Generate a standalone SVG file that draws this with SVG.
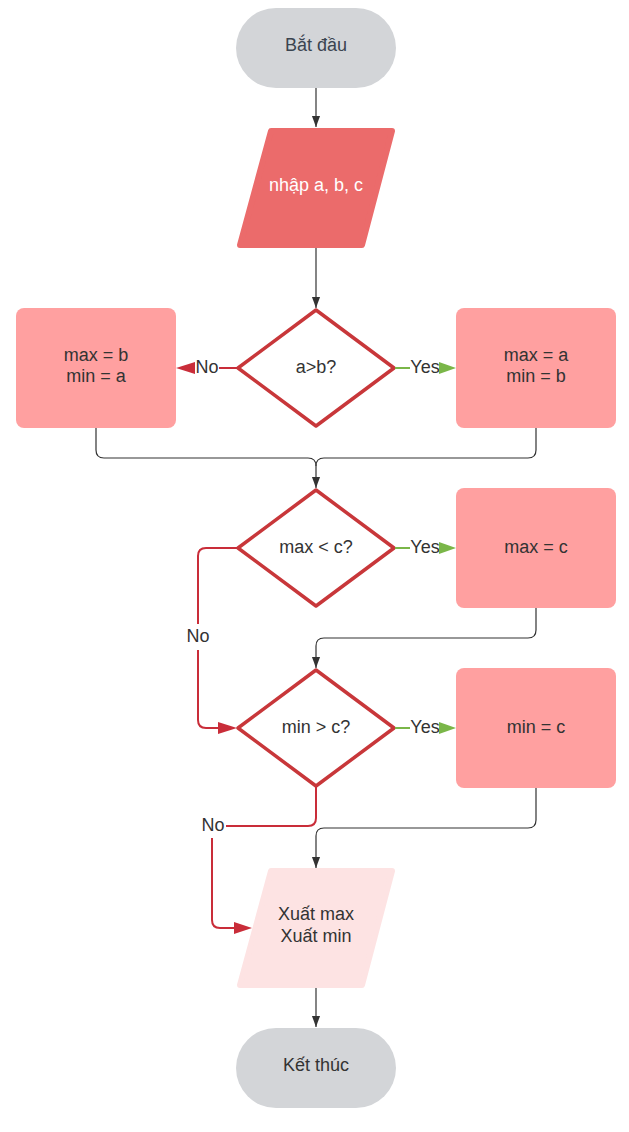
<svg xmlns="http://www.w3.org/2000/svg" width="629" height="1132" viewBox="0 0 629 1132">
  <style>
    text { font-family: "Liberation Sans", Arial, sans-serif; font-size: 18px; fill: #333333; text-anchor: middle; }
    .term { fill: #d3d5d8; }
    .term-text { fill: #3a4450; }
    .proc { fill: #ffa0a0; }
    .io-dark { fill: #eb6b6b; stroke: #eb6b6b; stroke-width: 6; stroke-linejoin: round; }
    .io-light { fill: #fde3e3; stroke: #fde3e3; stroke-width: 6; stroke-linejoin: round; }
    .dec { fill: #ffffff; stroke: #c8373a; stroke-width: 3.5; stroke-linejoin: round; }
    .flow { fill: none; stroke: #333333; stroke-width: 1.2; }
    .no { fill: none; stroke: #c92d39; stroke-width: 2; }
    .yes { fill: none; stroke: #7ab648; stroke-width: 2; }
  </style>
  <defs>
    <marker id="arrow-dark" markerWidth="11" markerHeight="15" refX="15" refY="5.5" viewBox="0 0 15 11" orient="auto" markerUnits="userSpaceOnUse">
      <path d="M0,0 L15,5.5 L0,11 Z" fill="#333333"/>
    </marker>
  </defs>

  <!-- Start -->
  <g id="start">
    <rect class="term" x="236" y="8" width="160" height="80" rx="40"/>
    <text class="term-text" x="316" y="51">Bắt đầu</text>
  </g>

  <!-- Input -->
  <g id="input">
    <polygon class="io-dark" points="271,131 392,131 362,245 240,245"/>
    <text x="316" y="191" style="fill:#ffffff">nhập a, b, c</text>
  </g>

  <!-- Decision a>b -->
  <g id="dec-ab">
    <polygon class="dec" points="316,310 394,368 316,426 238,368"/>
    <text x="316" y="373">a&gt;b?</text>
  </g>

  <g id="box-left">
    <rect class="proc" x="16" y="308" width="160" height="120" rx="8"/>
    <text x="96" y="361">max = b</text>
    <text x="96" y="382">min = a</text>
  </g>

  <g id="box-right">
    <rect class="proc" x="456" y="308" width="160" height="120" rx="8"/>
    <text x="536" y="361">max = a</text>
    <text x="536" y="382">min = b</text>
  </g>

  <!-- Decision max < c -->
  <g id="dec-max">
    <polygon class="dec" points="316,490 394,548 316,606 238,548"/>
    <text x="316" y="553">max &lt; c?</text>
  </g>

  <g id="box-max">
    <rect class="proc" x="456" y="488" width="160" height="120" rx="8"/>
    <text x="536" y="553">max = c</text>
  </g>

  <!-- Decision min > c -->
  <g id="dec-min">
    <polygon class="dec" points="316,670 394,728 316,786 238,728"/>
    <text x="316" y="733">min &gt; c?</text>
  </g>

  <g id="box-min">
    <rect class="proc" x="456" y="668" width="160" height="120" rx="8"/>
    <text x="536" y="733">min = c</text>
  </g>

  <!-- Output -->
  <g id="output">
    <polygon class="io-light" points="271,871 392,871 362,985 240,985"/>
    <text x="316" y="920">Xuất max</text>
    <text x="316" y="942">Xuất min</text>
  </g>

  <!-- End -->
  <g id="end">
    <rect class="term" x="236" y="1028" width="160" height="80" rx="40"/>
    <text x="316" y="1071">Kết thúc</text>
  </g>

  <!-- Connectors -->
  <g id="connectors">
    <!-- plain flow -->
    <path class="flow" d="M316,88 V127" marker-end="url(#arrow-dark)"/>
    <path class="flow" d="M316,248 V308" marker-end="url(#arrow-dark)"/>
    <path class="flow" d="M96,428 V450 Q96,458 104,458 H308 Q316,458 316,466 V488" marker-end="url(#arrow-dark)"/>
    <path class="flow" d="M536,428 V450 Q536,458 528,458 H324 Q316,458 316,466"/>
    <path class="flow" d="M536,608 V630 Q536,638 528,638 H324 Q316,638 316,646 V668" marker-end="url(#arrow-dark)"/>
    <path class="flow" d="M536,788 V820 Q536,828 528,828 H324 Q316,828 316,836 V868" marker-end="url(#arrow-dark)"/>
    <path class="flow" d="M316,988 V1027" marker-end="url(#arrow-dark)"/>

    <!-- a>b : No -->
    <path class="no" d="M237,368 H219"/>
    <text x="207" y="373">No</text>
    <path d="M176,368 L195,362 L195,374 Z" fill="#c92d39"/>
    <!-- a>b : Yes -->
    <path class="yes" d="M395,368 H410"/>
    <text x="425" y="373">Yes</text>
    <path d="M456,368 L439,362 L439,374 Z" fill="#7ab648"/>

    <!-- max<c : Yes -->
    <path class="yes" d="M395,548 H410"/>
    <text x="425" y="553">Yes</text>
    <path d="M456,548 L439,542 L439,554 Z" fill="#7ab648"/>
    <!-- max<c : No -->
    <path class="no" d="M237,548 H206 Q198,548 198,556 V624"/>
    <text x="198" y="642">No</text>
    <path class="no" d="M198,650 V720 Q198,728 206,728 H220"/>
    <path d="M237,728 L218,722 L218,734 Z" fill="#c92d39"/>

    <!-- min>c : Yes -->
    <path class="yes" d="M395,728 H410"/>
    <text x="425" y="733">Yes</text>
    <path d="M456,728 L439,722 L439,734 Z" fill="#7ab648"/>
    <!-- min>c : No -->
    <path class="no" d="M316,787 V818 Q316,826 308,826 H226"/>
    <text x="213" y="831">No</text>
    <path class="no" d="M212,838 V920 Q212,928 220,928 H236"/>
    <path d="M252,928 L234,922 L234,934 Z" fill="#c92d39"/>
  </g>
</svg>
